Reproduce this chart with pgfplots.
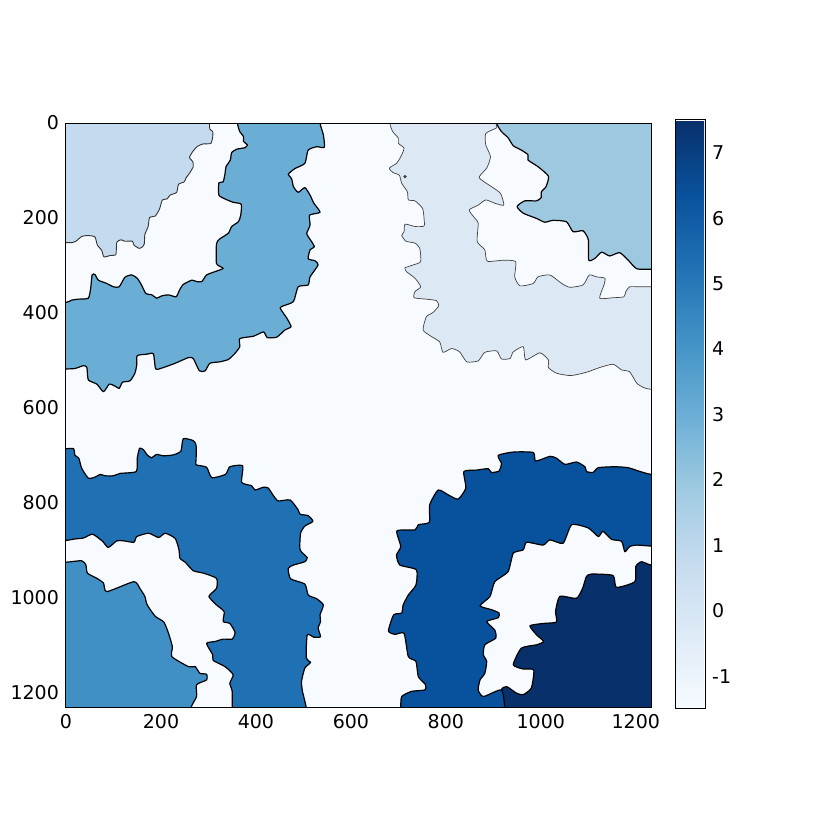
\documentclass[border=0pt]{standalone}
\usepackage{fontspec}
\setmainfont{DejaVu Sans}
\usepackage{pgfplots}
\pgfplotsset{compat=1.18}
\definecolor{cbg}{HTML}{F7FBFF}
\definecolor{c0}{HTML}{DCE9F5}
\definecolor{c1}{HTML}{C4DAEE}
\definecolor{c2}{HTML}{9DC9E0}
\definecolor{c3}{HTML}{6AAED6}
\definecolor{c4}{HTML}{4090C5}
\definecolor{c5}{HTML}{2070B4}
\definecolor{c6}{HTML}{08519C}
\definecolor{c7}{HTML}{08306B}
\pgfplotsset{
  colormap={blues}{
    rgb255=(247,251,255) rgb255=(222,235,247) rgb255=(198,219,239)
    rgb255=(158,202,225) rgb255=(107,174,214) rgb255=(66,146,198)
    rgb255=(33,113,181) rgb255=(8,81,156) rgb255=(8,48,107)
  },
  /pgfplots/colorbar shift/.style={xshift=4.5pt,yshift=1.5pt},
  region/.style={smooth,tension=0.35,line join=round},
}
\begin{document}
\begin{tikzpicture}
\path[use as bounding box] (0,0) rectangle (415pt,415pt);
\begin{axis}[
  at={(33pt,61.5pt)}, anchor=south west,
  scale only axis, width=292.5pt, height=292pt,
  xmin=0, xmax=1232, ymin=0, ymax=1230, y dir=reverse,
  xtick={0,200,...,1200}, ytick={0,200,...,1200},
  major tick length=0pt,
  axis line style={line width=0.5pt},
  axis background/.style={fill=cbg},
  axis on top,
  tick label style={font=\fontsize{9.5pt}{11pt}\selectfont},
  /pgf/number format/assume math mode=true,
  /pgf/number format/set thousands separator={},
  colormap name=blues,
  point meta min=-1.5, point meta max=7.5,
  colorbar,
  colorbar style={
    width=14.75pt, height=294.5pt,
    ytick={-1,0,...,7},
    yticklabels={-1,0,1,2,3,4,5,6,7},
    major tick length=0pt,
    axis line style={line width=0.5pt},
    tick label style={font=\fontsize{9.5pt}{11pt}\selectfont},
  },
]
% outlines run on past the frame, so that smoothing stays straight at the edges
% value 1, top left
\addplot[region,fill=c1,draw=black!80,line width=0.45pt] coordinates {
(-40,-40)(302,-40)(302,0)(303,13)(309,18)(309,29)(305,43)(289,44)(277,49)(267,60)(260,73)(267,81)(268,92)(260,106)(253,115)(249,124)(237,129)(233,146)(219,152)(213,160)(203,162)(197,181)(188,196)(176,199)(173,218)(166,235)(165,254)(161,261)(154,264)(143,257)(140,249)(124,249)(116,246)(107,251)(105,277)(93,279)(80,282)(75,268)(66,257)(61,240)(47,237)(33,239)(21,249)(12,252)(0,252)(-40,252)
} -- cycle;
% value 3
\addplot[region,fill=c3,draw=black,line width=0.6pt] coordinates {
(361,-40)(361,0)(366,18)(374,29)(374,39)(382,46)(377,52)(360,55)(349,62)(346,78)(337,92)(335,106)(331,124)(322,126)(322,152)(335,160)(352,167)(369,171)(368,194)(363,208)(349,218)(342,232)(324,244)(317,254)(317,296)(331,306)(314,313)(296,320)(286,334)(275,334)(265,331)(247,340)(239,352)(232,366)(216,362)(202,364)(191,369)(181,362)(168,359)(159,341)(150,327)(138,320)(124,325)(112,345)(100,345)(86,338)(68,331)(61,319)(55,320)(52,348)(47,369)(26,371)(12,373)(0,378)(-40,378)
(-40,518)(0,518)(19,517)(37,511)(44,515)(47,541)(65,550)(79,566)(91,550)(103,554)(112,559)(119,546)(135,543)(145,527)(149,510)(150,490)(170,487)(184,486)(189,518)(205,515)(230,506)(258,494)(268,496)(281,522)(293,522)(303,506)(324,503)(342,498)(356,485)(366,471)(366,454)(395,449)(416,440)(424,452)(444,451)(461,436)(474,429)(465,411)(451,390)(458,385)(479,376)(489,345)(510,341)(514,324)(531,299)(524,290)(510,286)(514,267)(523,260)(510,239)(507,232)(514,215)(513,194)(535,188)(522,169)(514,152)(503,136)(489,146)(479,134)(475,117)(468,108)(482,96)(503,85)(510,57)(528,50)(544,51)(542,25)(535,0)(535,-40)
} -- cycle;
% value 0
\addplot[region,fill=c0,draw=black!75,line width=0.35pt] coordinates {
(682,-40)(682,0)(688,18)(700,32)(700,43)(712,53)(705,71)(696,85)(681,95)(688,104)(702,110)(707,127)(719,145)(721,162)(735,164)(751,180)(754,201)(754,217)(735,218)(714,213)(712,229)(707,237)(716,249)(735,253)(745,264)(747,292)(731,299)(714,305)(717,313)(735,327)(747,345)(735,355)(733,368)(759,371)(780,374)(785,385)(773,399)(759,408)(752,436)(770,450)(787,461)(794,483)(812,475)(829,482)(844,503)(868,501)(882,483)(907,480)(917,497)(935,496)(942,482)(963,471)(968,499)(998,484)(1016,499)(1016,515)(1033,527)(1063,532)(1096,525)(1124,515)(1152,508)(1170,520)(1187,524)(1202,548)(1216,557)(1232,561)(1270,561)
(1270,345)(1232,345)(1209,345)(1187,345)(1179,355)(1175,366)(1152,368)(1124,369)(1133,341)(1135,327)(1117,324)(1102,320)(1089,341)(1061,346)(1044,338)(1019,320)(994,324)(984,338)(956,343)(945,324)(947,292)(921,289)(887,291)(882,267)(866,250)(868,211)(858,197)(849,183)(868,173)(884,162)(903,169)(922,173)(915,148)(896,134)(870,115)(886,95)(894,71)(884,46)(884,22)(907,10)(905,0)(905,-40)
} -- cycle;
\addplot[only marks,mark=*,mark size=0.6pt,color=black!75] coordinates {(714,113)};
% value 2
\addplot[region,fill=c2,draw=black,line width=0.6pt] coordinates {
(907,-40)(907,0)(917,18)(931,31)(942,48)(959,57)(973,67)(973,78)(994,92)(1016,112)(1011,134)(1001,145)(1001,157)(991,164)(966,164)(950,176)(963,190)(991,201)(1008,209)(1026,205)(1054,208)(1068,229)(1089,227)(1100,246)(1101,289)(1114,285)(1128,272)(1145,280)(1166,273)(1184,289)(1202,307)(1232,308)(1270,308)(1270,-40)
} -- cycle;
% value 5
\addplot[region,fill=c5,draw=black,line width=0.6pt] coordinates {
(-40,686)(0,686)(16,686)(19,700)(27,706)(33,727)(47,748)(61,746)(72,740)(82,743)(100,743)(114,738)(148,734)(150,706)(155,685)(163,688)(171,699)(180,705)(191,698)(205,701)(226,699)(242,691)(247,665)(268,669)(274,679)(274,710)(274,720)(296,725)(307,747)(336,740)(345,724)(372,722)(370,757)(391,764)(398,773)(416,767)(426,769)(437,785)(447,796)(472,794)(489,815)(493,824)(510,827)(520,839)(503,849)(494,864)(493,899)(508,915)(503,924)(479,931)(468,938)(473,960)(503,971)(510,994)(528,1002)(542,1015)(535,1036)(536,1050)(531,1064)(536,1082)(522,1083)(508,1078)(506,1127)(515,1136)(503,1148)(496,1176)(498,1197)(506,1232)(506,1270)
(350,1270)(350,1232)(350,1197)(345,1180)(352,1162)(335,1145)(310,1132)(309,1120)(296,1096)(314,1092)(331,1087)(350,1087)(356,1073)(345,1054)(331,1050)(333,1029)(317,1015)(301,997)(317,980)(317,959)(289,948)(268,943)(251,925)(240,917)(238,899)(230,875)(209,864)(195,873)(174,864)(149,871)(143,883)(121,880)(107,880)(89,894)(77,881)(56,866)(37,874)(19,876)(0,879)(-40,879)
} -- cycle;
% value 4
\addplot[region,fill=c4,draw=black,line width=0.6pt] coordinates {
(-40,925)(0,925)(33,922)(42,931)(45,948)(65,959)(79,969)(86,987)(143,966)(156,981)(166,997)(171,1015)(188,1039)(206,1051)(216,1075)(224,1103)(223,1124)(258,1145)(272,1145)(282,1159)(296,1161)(296,1173)(275,1183)(275,1208)(263,1232)(263,1270)(-40,1270)
} -- cycle;
% value 7
\addplot[region,fill=c7,draw=black,line width=0.6pt] coordinates {
(924,1270)(924,1232)(917,1194)(928,1187)(949,1201)(963,1204)(980,1190)(985,1152)(963,1150)(942,1141)(959,1106)(991,1099)(1006,1092)(991,1078)(977,1059)(1005,1054)(1033,1051)(1031,1029)(1040,997)(1075,1001)(1088,980)(1096,955)(1107,950)(1152,953)(1159,978)(1198,966)(1200,934)(1212,924)(1232,931)(1270,931)(1270,1270)
} -- cycle;
% value 6
\addplot[region,fill=c6,draw=black,line width=0.6pt] coordinates {
(705,1270)(705,1232)(707,1208)(728,1197)(756,1194)(757,1183)(742,1166)(737,1134)(721,1124)(712,1075)(693,1077)(679,1070)(690,1036)(707,1032)(710,1015)(721,994)(737,973)(738,941)(703,931)(696,910)(705,892)(697,859)(735,857)(742,846)(765,841)(766,804)(784,773)(808,785)(826,792)(842,769)(838,734)(865,731)(889,728)(896,736)(912,733)(917,717)(910,700)(942,693)(984,694)(989,712)(1019,702)(1033,706)(1051,719)(1075,714)(1093,724)(1096,734)(1110,736)(1121,726)(1156,724)(1184,726)(1209,734)(1232,740)(1270,740)
(1270,891)(1232,891)(1202,889)(1187,892)(1177,903)(1170,881)(1149,877)(1131,860)(1121,871)(1100,853)(1065,846)(1047,885)(1019,878)(1005,889)(970,883)(963,899)(942,906)(931,945)(903,966)(893,997)(872,1017)(896,1025)(912,1032)(910,1042)(886,1050)(903,1068)(905,1085)(882,1099)(879,1120)(886,1134)(882,1159)(872,1173)(868,1194)(879,1208)(917,1194)(924,1232)(924,1270)
} -- cycle;
\end{axis}
\end{tikzpicture}
\end{document}
